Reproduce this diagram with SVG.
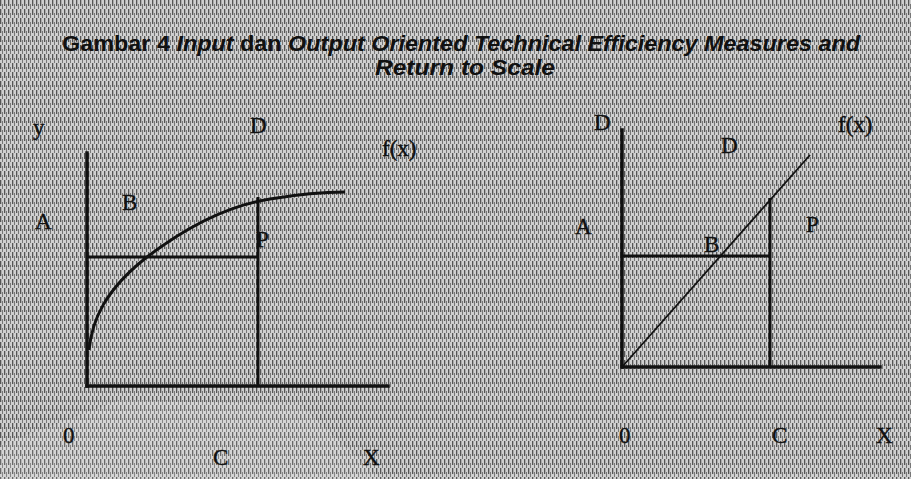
<svg xmlns="http://www.w3.org/2000/svg" width="911" height="479" viewBox="0 0 911 479">
<defs>
<pattern id="stripes" width="4" height="9" patternUnits="userSpaceOnUse">
<rect width="4" height="9" fill="#cfcfcf"/>
<rect x="0" y="0" width="1.3" height="6" fill="#555"/>
<rect x="2" y="4" width="1" height="5" fill="#777"/>
</pattern>
</defs>
<style>
.ax{stroke:#111;stroke-width:3.5;fill:none;stroke-linecap:square}
.ln{stroke:#111;stroke-width:3;fill:none}
.thin{stroke:#111;stroke-width:1.8;fill:none}
.lb{font-family:"Liberation Serif","DejaVu Serif",serif;font-size:23px;fill:#111;stroke:#111;stroke-width:0.4}
.tt{font-family:"Liberation Sans",Arial,sans-serif;font-weight:bold;font-size:22px;fill:#111}
</style>
<rect width="911" height="479" fill="url(#stripes)"/>
<polygon points="0,479 0,445 120,400 300,405 380,479" fill="#ffffff" opacity="0.12"/>
<g id="title">
<text class="tt" x="62" y="51" textLength="798" lengthAdjust="spacingAndGlyphs">Gambar 4 <tspan font-style="italic">Input</tspan> dan <tspan font-style="italic">Output Oriented Technical Efficiency Measures and</tspan></text>
<text class="tt" x="375" y="75" textLength="180" lengthAdjust="spacingAndGlyphs" font-style="italic">Return to Scale</text>
</g>
<g id="left-panel">
<line class="ax" x1="87" y1="153" x2="87" y2="386"/>
<line class="ax" x1="87" y1="386" x2="388" y2="386"/>
<line class="ln" x1="87" y1="257" x2="258" y2="257"/>
<line class="ln" x1="258" y1="197" x2="258" y2="386"/>
<path class="ln" d="M89,350 C92,320 105,290 147,257 C185,228 225,206 270,199 C300,194 320,192 345,192"/>
<text class="lb" x="33" y="135">y</text>
<text class="lb" x="250" y="133">D</text>
<text class="lb" x="382" y="156">f(x)</text>
<text class="lb" x="122" y="210">B</text>
<text class="lb" x="35" y="229">A</text>
<text class="lb" x="256" y="247">P</text>
<text class="lb" x="63" y="443">0</text>
<text class="lb" x="213" y="465">C</text>
<text class="lb" x="363" y="465">X</text>
</g>
<g id="right-panel">
<line class="ax" x1="622" y1="130" x2="622" y2="367"/>
<line class="ax" x1="622" y1="367" x2="880" y2="367"/>
<line class="ln" x1="622" y1="256" x2="770" y2="256"/>
<line class="ln" x1="770" y1="198" x2="770" y2="367"/>
<line class="thin" x1="622" y1="367" x2="810" y2="155"/>
<text class="lb" x="594" y="130">D</text>
<text class="lb" x="721" y="153">D</text>
<text class="lb" x="838" y="132">f(x)</text>
<text class="lb" x="575" y="234">A</text>
<text class="lb" x="704" y="252">B</text>
<text class="lb" x="806" y="232">P</text>
<text class="lb" x="619" y="443">0</text>
<text class="lb" x="772" y="443">C</text>
<text class="lb" x="876" y="443">X</text>
</g>
</svg>
